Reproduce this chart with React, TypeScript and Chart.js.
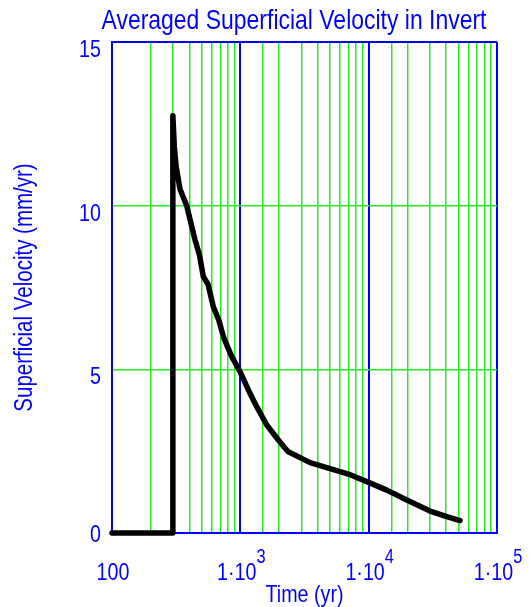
import React, { useEffect, useRef } from "react";
import { Chart, registerables } from "chart.js";

Chart.register(...registerables);

// ---- data ----
const times = [100, 298, 298, 301, 306, 316, 339, 382, 430, 443, 480, 515, 560, 616, 680, 737, 857, 995, 1155, 1342, 1607, 1979, 2200, 2367, 3494, 5003, 6950, 9660, 13840, 19820, 30100, 40600, 51500];
const velocities = [0, 0, 12.75, 12.4, 11.8, 11.2, 10.5, 10.0, 9.17, 8.96, 8.5, 7.83, 7.6, 6.91, 6.5, 6.0, 5.39, 4.93, 4.37, 3.86, 3.3, 2.84, 2.62, 2.48, 2.15, 1.97, 1.8, 1.57, 1.31, 1.01, 0.67, 0.5, 0.38];
const xTickValues = [100, 1000, 10000, 100000];
const yTickValues = [0, 5, 10, 15];
const chartTitle = "Averaged Superficial Velocity in Invert";
const xTitle = "Time (yr)";
const yTitle = "Superficial Velocity (mm/yr)";

const BLUE = "#0000ff";
const GREEN = "#22ee22";
const FAMILY = '"Liberation Sans", Arial, sans-serif';
const SQUEEZE = 0.82;

const isDecade = (v: number) => {
  const l = Math.log10(v);
  return Math.abs(l - Math.round(l)) < 1e-9;
};

function measure(ctx: any, text: string, size: number) {
  ctx.font = `${size}px ${FAMILY}`;
  return ctx.measureText(text).width * SQUEEZE;
}

function drawText(ctx: any, text: string, x: number, y: number, size: number, align: string) {
  ctx.save();
  ctx.font = `${size}px ${FAMILY}`;
  ctx.textAlign = align;
  ctx.textBaseline = "alphabetic";
  ctx.translate(x, y);
  ctx.scale(SQUEEZE, 1);
  ctx.fillText(text, 0, 0);
  ctx.restore();
}

const textPlugin = {
  id: "mathcadText",
  afterDraw(chart: any) {
    const ctx = chart.ctx;
    const area = chart.chartArea;
    const xs = chart.scales.x;
    const ys = chart.scales.y;
    ctx.save();
    ctx.fillStyle = BLUE;

    // title
    drawText(ctx, chartTitle, 294, 29, 28, "center");

    // y tick labels
    for (const v of yTickValues) {
      const py = ys.getPixelForValue(v);
      drawText(ctx, String(v), 101, Math.min(py + 15, area.bottom + 9), 24, "right");
    }

    // x tick labels
    for (const v of xTickValues) {
      const px = xs.getPixelForValue(v);
      const exp = Math.round(Math.log10(v));
      const base = v <= 100 ? String(v) : "1\u00B710";
      const sup = v <= 100 ? "" : String(exp);
      const wb = measure(ctx, base, 24);
      const ws = sup ? measure(ctx, sup, 20) : 0;
      const start = px - (wb + ws) / 2 + 1;
      drawText(ctx, base, start, 580, 24, "left");
      if (sup) drawText(ctx, sup, start + wb, 563, 20, "left");
    }

    // x title
    drawText(ctx, xTitle, (area.left + area.right) / 2, 602, 24, "center");

    // y title
    ctx.save();
    ctx.translate(25, (area.top + area.bottom) / 2);
    ctx.rotate(-Math.PI / 2);
    ctx.scale(SQUEEZE, 1);
    ctx.font = `25px ${FAMILY}`;
    ctx.textAlign = "center";
    ctx.textBaseline = "middle";
    ctx.fillText(yTitle, 0, 0);
    ctx.restore();

    ctx.restore();
  },
};

export default function App() {
  const ref = useRef<HTMLCanvasElement | null>(null);
  useEffect(() => {
    if (!ref.current) return;
    const data = times.map((t, i) => ({ x: t, y: velocities[i] }));
    const chart = new Chart(ref.current, {
      type: "line",
      data: {
        datasets: [
          {
            data,
            borderColor: "#000000",
            borderWidth: 5.5,
            pointRadius: 0,
            tension: 0,
            borderCapStyle: "round",
            borderJoinStyle: "round",
            clip: 10,
          },
        ],
      },
      options: {
        animation: false,
        responsive: false,
        events: [],
        layout: { padding: { left: 0, right: 32, top: 42, bottom: 0 } },
        plugins: { legend: { display: false }, title: { display: false }, tooltip: { enabled: false } },
        scales: {
          x: {
            type: "logarithmic",
            min: 100,
            max: 100000,
            ticks: { display: false },
            grid: {
              drawTicks: false,
              color: (c: any) => (isDecade(c.tick.value) ? BLUE : GREEN),
              lineWidth: (c: any) => (isDecade(c.tick.value) ? 2 : 1.5),
            },
            border: { display: true, color: BLUE, width: 2 },
            afterFit: (s: any) => {
              s.height = 74;
            },
          },
          y: {
            type: "linear",
            min: 0,
            max: 15,
            ticks: { display: false, stepSize: 5 },
            grid: {
              drawTicks: false,
              color: (c: any) => (c.tick.value === 0 || c.tick.value === 15 ? BLUE : GREEN),
              lineWidth: (c: any) => (c.tick.value === 0 || c.tick.value === 15 ? 2 : 1.5),
            },
            border: { display: true, color: BLUE, width: 2 },
            afterFit: (s: any) => {
              s.width = 112;
            },
          },
        },
      },
      plugins: [textPlugin],
    } as any);
    return () => chart.destroy();
  }, []);
  return (
    <div style={{ position: "fixed", left: 0, top: 0, width: 529, height: 607, background: "#fff" }}>
      <canvas ref={ref} width={529} height={607} />
    </div>
  );
}
